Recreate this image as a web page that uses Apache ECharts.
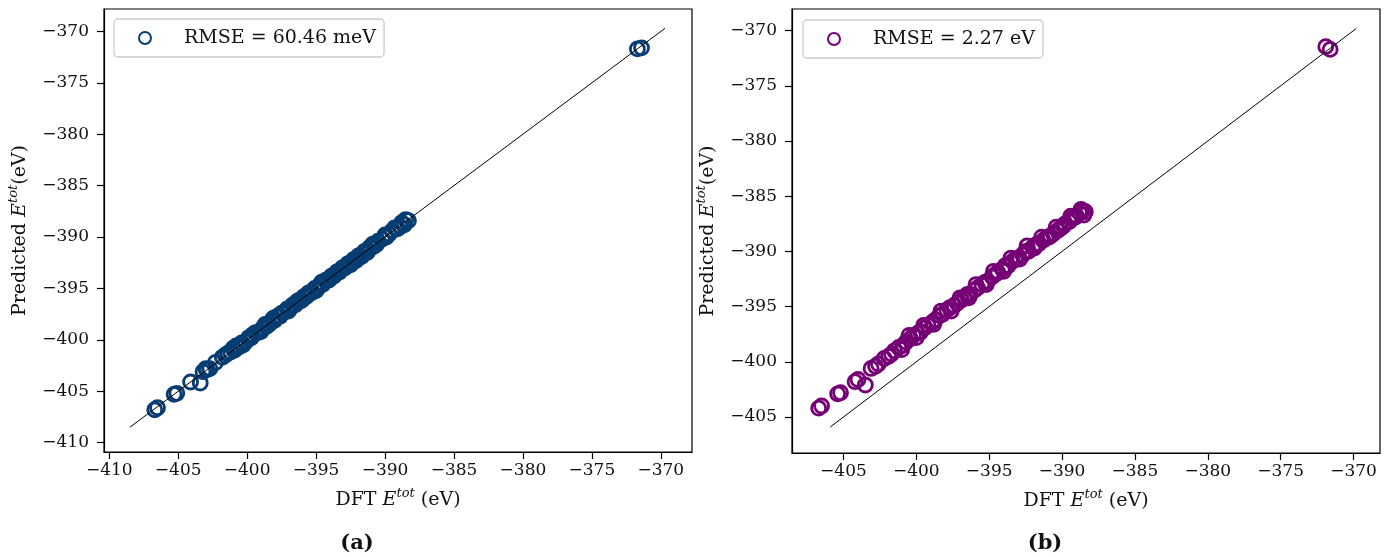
<!DOCTYPE html>
<html><head><meta charset="utf-8">
<script src="https://cdn.jsdelivr.net/npm/echarts@6/dist/echarts.min.js"></script>
<style>html,body{margin:0;padding:0;background:#fff}#c{width:1400px;height:557px}</style>
</head><body><div id="c"></div>
<script>
// ---------- data ----------
const ticksA = [-410, -405, -400, -395, -390, -385, -380, -375, -370];
const ticksB = [-405, -400, -395, -390, -385, -380, -375, -370];
const legendA = 'RMSE = 60.46 meV';
const legendB = 'RMSE = 2.27 eV';
const captionA = '(a)';
const captionB = '(b)';

const dftA = [-406.7, -406.5, -405.3, -405.1, -404.1, -403.4, -403.2, -402.9, -402.7, -401.8,
  -401.6, -401.2, -400.9, -400.6, -400.4, -400.1, -399.9, -399.7, -399.4, -399.2,
  -398.9, -398.7, -398.4, -398.2, -398.0, -397.8, -397.6, -397.3, -397.1, -396.9,
  -396.7, -396.5, -396.3, -396.1, -395.9, -395.7, -395.5, -395.3, -395.1, -394.9,
  -394.7, -394.5, -394.3, -394.1, -393.9, -393.7, -393.5, -393.3, -393.1, -392.9,
  -392.7, -392.5, -392.3, -392.1, -391.9, -391.7, -391.5, -391.3, -391.1, -390.8,
  -390.5, -390.2, -389.9, -389.5, -389.1, -388.8, -388.6, -388.3, -371.7, -371.4,
  -403.0, -402.3, -401.4, -401.0, -400.8, -400.3, -399.6, -399.0, -398.6, -398.1,
  -397.5, -397.0, -396.4, -396.0, -395.6, -395.0, -394.6, -394.0, -393.6, -393.2,
  -392.8, -392.4, -392.0, -391.6, -391.2, -390.9, -390.6, -390.0, -389.7, -389.3,
  -388.9, -388.5];
const predA = [-406.8, -406.6, -405.3, -405.2, -404.1, -404.2, -403.1, -402.9, -402.8, -401.7,
  -401.5, -401.2, -401.0, -400.7, -400.3, -400.2, -399.8, -399.8, -399.3, -399.3,
  -398.9, -398.5, -398.5, -398.1, -398.1, -397.7, -397.7, -397.3, -397.0, -397.0,
  -396.6, -396.6, -396.2, -396.2, -395.8, -395.8, -395.4, -395.4, -395.0, -395.0,
  -394.6, -394.6, -394.2, -394.2, -393.8, -393.8, -393.4, -393.4, -393.0, -393.0,
  -392.6, -392.7, -392.2, -392.3, -391.8, -391.9, -391.4, -391.5, -391.0, -390.9,
  -390.4, -390.2, -390.0, -389.4, -389.2, -388.6, -388.8, -388.4, -371.7, -371.6,
  -402.8, -402.2, -401.3, -400.8, -400.6, -400.5, -399.5, -399.2, -398.7, -397.9,
  -397.4, -397.2, -396.3, -396.1, -395.5, -395.2, -394.4, -394.1, -393.6, -393.2,
  -392.8, -392.5, -392.0, -391.6, -391.3, -390.7, -390.7, -389.8, -389.7, -389.1,
  -389.0, -388.3];

const dftB = [-406.7, -406.5, -405.4, -405.2, -404.2, -404.0, -403.5, -403.1, -402.8, -402.6,
  -401.9, -401.7, -401.5, -401.2, -400.9, -400.7, -400.4, -400.2, -399.9, -399.7,
  -399.4, -399.2, -398.9, -398.7, -398.4, -398.2, -397.9, -397.7, -397.4, -397.2,
  -396.9, -396.7, -396.5, -396.3, -396.0, -395.8, -395.5, -395.3, -395.1, -394.8,
  -394.6, -394.4, -394.1, -393.9, -393.7, -393.4, -393.2, -393.0, -392.7, -392.5,
  -392.3, -392.0, -391.8, -391.6, -391.3, -391.1, -390.9, -390.6, -390.3, -390.1,
  -389.8, -389.5, -389.3, -389.0, -388.8, -388.6, -388.5, -371.9, -371.6,
  -402.2, -401.0, -400.5, -400.0, -399.5, -398.8, -398.3, -397.6, -397.0, -396.4,
  -395.9, -395.2, -394.7, -394.0, -393.5, -392.9, -392.4, -391.9, -391.4, -390.8,
  -390.4, -389.9, -389.4, -389.1, -388.7, -388.4];
const predB = [-404.2, -404.0, -402.9, -402.8, -401.8, -401.6, -402.1, -400.6, -400.4, -400.2,
  -399.5, -399.3, -399.0, -398.7, -398.5, -398.2, -397.9, -397.6, -397.4, -397.3,
  -396.9, -396.7, -396.4, -396.2, -395.8, -395.7, -395.3, -395.1, -394.9, -394.7,
  -394.4, -394.2, -393.9, -393.9, -393.5, -393.3, -393.0, -392.8, -392.7, -392.3,
  -392.1, -391.9, -391.6, -391.3, -391.3, -390.9, -390.7, -390.6, -390.3, -390.0,
  -390.0, -389.6, -389.4, -389.3, -389.0, -388.8, -388.7, -388.4, -388.1, -387.9,
  -387.5, -387.3, -387.0, -386.8, -386.5, -386.3, -386.7, -371.45, -371.7,
  -399.7, -398.9, -397.6, -397.8, -396.7, -396.6, -395.4, -395.4, -394.2, -394.2,
  -393.0, -393.0, -391.8, -391.8, -390.6, -390.7, -389.5, -389.7, -388.7, -388.6,
  -387.8, -387.7, -386.8, -386.9, -386.2, -386.4];

const diagA = [-408.5, -369.7];
const diagB = [-405.9, -369.8];

// ---------- style ----------
const FONT = 'DejaVu Serif';
const BLUE = '#073d72';
const PURPLE = '#750075';
const TXT = '#111';

const fmt = v => (v < 0 ? '\u2212' : '') + Math.abs(v);
const nameRich = {
  i: {fontFamily: FONT, fontSize: 19, fontStyle: 'italic', color: TXT, lineHeight: 26},
  s: {fontFamily: FONT, fontSize: 13, fontStyle: 'italic', color: TXT, verticalAlign: 'top', lineHeight: 13}
};
const nameStyle = {fontFamily: FONT, fontSize: 19, color: TXT, lineHeight: 26, rich: nameRich};

function xAxisCfg(gi, min, max, ticks) {
  return {
    type: 'value', gridIndex: gi, min: min, max: max,
    name: 'DFT {i|E}{s|tot} (eV)', nameLocation: 'middle', nameGap: 35, nameTextStyle: nameStyle,
    axisLine: {show: true, onZero: false, lineStyle: {color: '#000', width: 1.2}},
    axisTick: {show: true, length: 7, customValues: ticks, lineStyle: {color: '#000', width: 1.2}},
    axisLabel: {customValues: ticks, formatter: fmt, margin: 10, fontFamily: FONT, fontSize: 17, color: TXT},
    splitLine: {show: false}
  };
}
function yAxisCfg(gi, min, max, ticks) {
  return {
    type: 'value', gridIndex: gi, min: min, max: max,
    name: 'Predicted {i|E}{s|tot}(eV)', nameLocation: 'middle', nameGap: 71, nameRotate: 90, nameTextStyle: nameStyle,
    axisLine: {show: true, onZero: false, lineStyle: {color: '#000', width: 1.2}},
    axisTick: {show: true, length: 7, customValues: ticks, lineStyle: {color: '#000', width: 1.2}},
    axisLabel: {customValues: ticks, formatter: fmt, margin: 15, fontFamily: FONT, fontSize: 17, color: TXT},
    splitLine: {show: false}
  };
}
function legendCfg(name, left, top) {
  return {
    data: [name], left: left, top: top, orient: 'horizontal', selectedMode: false,
    itemWidth: 12, itemHeight: 12, padding: [8, 8, 8, 24],
    borderColor: '#cccccc', borderWidth: 1.3, borderRadius: 4, backgroundColor: '#fff',
    itemStyle: {borderWidth: 2},
    formatter: n => '{g|}{t|' + n + '}',
    textStyle: {
      fontFamily: FONT, fontSize: 19, color: TXT, lineHeight: 22,
      rich: {g: {width: 28}, t: {fontFamily: FONT, fontSize: 19, color: TXT, lineHeight: 22}}
    }
  };
}
function scatterCfg(name, gi, xs, ys, color) {
  return {
    type: 'scatter', name: name, xAxisIndex: gi, yAxisIndex: gi,
    data: xs.map((x, i) => [x, ys[i]]),
    symbol: 'circle', symbolSize: 14,
    itemStyle: {color: 'rgba(255,255,255,0)', borderColor: color, borderWidth: 2.8, opacity: 1},
    emphasis: {disabled: true}, silent: true, z: 2
  };
}
function diagCfg(gi, ends) {
  return {
    type: 'line', xAxisIndex: gi, yAxisIndex: gi,
    data: ends.map(v => [v, v]), symbol: 'none',
    lineStyle: {color: '#000', width: 1}, silent: true, z: 5
  };
}

const chart = echarts.init(document.getElementById('c'), null, {renderer: 'canvas'});
chart.setOption({
  animation: false,
  backgroundColor: '#fff',
  title: [
    {text: captionA, left: 352, top: 528, textAlign: 'center', textStyle: {fontFamily: FONT, fontWeight: 'bold', fontSize: 21, color: TXT}},
    {text: captionB, left: 1040, top: 528, textAlign: 'center', textStyle: {fontFamily: FONT, fontWeight: 'bold', fontSize: 21, color: TXT}}
  ],
  grid: [
    {left: 104, top: 9, width: 588, height: 443, show: true, borderColor: '#000', borderWidth: 1.2, containLabel: false},
    {left: 792, top: 9, width: 588, height: 444, show: true, borderColor: '#000', borderWidth: 1.2, containLabel: false}
  ],
  xAxis: [xAxisCfg(0, -410.38, -367.74, ticksA), xAxisCfg(1, -408.53, -368.18, ticksB)],
  yAxis: [yAxisCfg(0, -410.91, -367.82, ticksA), yAxisCfg(1, -408.26, -368.04, ticksB)],
  legend: [legendCfg(legendA, 114, 19), legendCfg(legendB, 803, 20)],
  series: [
    scatterCfg(legendA, 0, dftA, predA, BLUE),
    diagCfg(0, diagA),
    scatterCfg(legendB, 1, dftB, predB, PURPLE),
    diagCfg(1, diagB)
  ]
});
</script>
</body></html>
